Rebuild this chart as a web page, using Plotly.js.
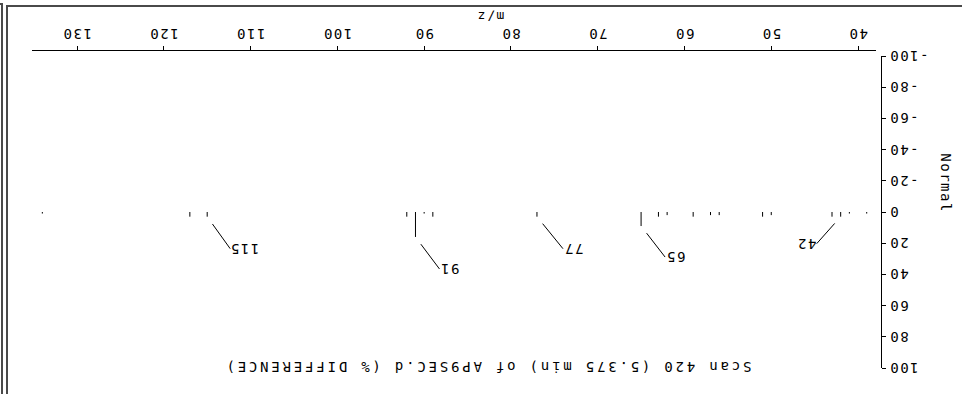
<!DOCTYPE html>
<html>
<head>
<meta charset="utf-8">
<script src="https://cdn.plot.ly/plotly-3.0.1.min.js"></script>
<style>
  html, body { margin: 0; padding: 0; background: #fff; }
  /* the reference picture is the whole printout turned upside down */
  #wrap { position: relative; width: 962px; height: 394px; transform: rotate(180deg); overflow: hidden; background: #fff; }
  #chart { position: absolute; left: 0; top: 0; width: 962px; height: 394px; }
  .frame { position: absolute; background: #4a4a4a; }
  #chart .xtick text, #chart .ytick text, #chart .annotation-text { letter-spacing: 1.5px; }
  #chart .gtitle { letter-spacing: 2.8px; }
</style>
</head>
<body>
<div id="wrap">
  <div id="chart"></div>
  <div class="frame" style="left:954px; top:0; width:2px; height:389px;"></div>
  <div class="frame" style="left:959px; top:0; width:2px; height:391px;"></div>
  <div class="frame" style="left:0; top:387px; width:956px; height:2px;"></div>
  <div class="frame" style="left:959px; top:389px; width:3px; height:2px;"></div>
</div>
<script>
/*globals Plotly*/

// spectrum, m/z and % difference
var peakMz  = [39, 41, 42, 43, 50, 51, 56, 57, 59, 62, 63, 65, 77, 89, 90, 91, 92, 115, 117, 134];
var peakPct = [ 1,  1,  3,  3,  2,  3,  2,  2,  3,  2,  3,  9,  3,  3,  1, 16,  3,   3,   3,   1];

// labelled peaks
var labelMz = [42, 65, 77, 91, 115];

var xTickVals = [40, 50, 60, 70, 80, 90, 100, 110, 120, 130];
var yTickVals = [-100, -80, -60, -40, -20, 0, 20, 40, 60, 80, 100];
var yTickText = ['-100', '-80', '-60', '-40', '-20', '0', '20', '40', '60', '80', '100'];

var titleText = 'Scan 420 (5.375 min) of AP9SEC.d (% DIFFERENCE)';

// where each label sits, relative to its peak (pixels)
var labelOffsets = {
  42:  {ax: 24,  ay: -27, xanchor: 'left'},
  65:  {ax: -24, ay: -31, xanchor: 'right'},
  77:  {ax: -26, ay: -32, xanchor: 'right'},
  91:  {ax: -24, ay: -32, xanchor: 'right'},
  115: {ax: -23, ay: -32, xanchor: 'right'}
};

var mono = 'DejaVu Sans Mono, monospace';

// sticks: one segment per peak
var lx = [], ly = [];
peakMz.forEach(function (m, i) {
  lx.push(m, m, null);
  ly.push(0, peakPct[i], null);
});

var sticks = {
  x: lx,
  y: ly,
  type: 'scatter',
  mode: 'lines',
  line: {color: '#000', width: 1},
  hoverinfo: 'skip',
  showlegend: false
};

var annotations = labelMz.map(function (m) {
  var o = labelOffsets[m];
  return {
    x: m,
    y: peakPct[peakMz.indexOf(m)],
    xref: 'x',
    yref: 'y',
    text: String(m),
    showarrow: true,
    arrowhead: 0,
    arrowwidth: 1,
    arrowcolor: '#000',
    standoff: 9,
    ax: o.ax,
    ay: o.ay,
    xanchor: o.xanchor,
    yanchor: 'middle',
    font: {family: mono, size: 14, color: '#000'}
  };
});

annotations.push({
  text: 'm/z',
  xref: 'paper', yref: 'paper',
  x: 0.46, y: -0.110,
  xanchor: 'center', yanchor: 'middle',
  showarrow: false,
  font: {family: mono, size: 13, color: '#000'}
});

annotations.push({
  text: 'Normal',
  xref: 'paper', yref: 'paper',
  x: -0.076, y: 0.417,
  xanchor: 'center', yanchor: 'middle',
  textangle: -90,
  showarrow: false,
  font: {family: mono, size: 14, color: '#000'}
});

var axisFont = {family: mono, size: 14, color: '#000'};

var layout = {
  width: 962,
  height: 394,
  margin: {l: 80, r: 32, t: 26, b: 51, pad: 0},
  paper_bgcolor: '#fff',
  plot_bgcolor: '#fff',
  showlegend: false,
  hovermode: false,
  title: {
    text: titleText,
    font: {family: mono, size: 14, color: '#000'},
    x: 0.4932,
    y: 0.9315,
    xanchor: 'center',
    yanchor: 'middle'
  },
  xaxis: {
    domain: [6 / 850, 1],
    anchor: 'free',
    position: 0,
    range: [37.93, 135.19],
    tickvals: xTickVals,
    ticks: 'outside',
    ticklen: 4,
    tickwidth: 1,
    tickcolor: '#000',
    showline: true,
    linecolor: '#000',
    linewidth: 1,
    showgrid: false,
    zeroline: false,
    tickfont: axisFont
  },
  yaxis: {
    domain: [5 / 317, 1],
    anchor: 'free',
    position: 0,
    range: [-100, 100],
    tickvals: yTickVals,
    ticktext: yTickText,
    ticks: 'outside',
    ticklen: 4,
    tickwidth: 1,
    tickcolor: '#000',
    showline: true,
    linecolor: '#000',
    linewidth: 1,
    showgrid: false,
    zeroline: false,
    tickfont: axisFont
  },
  annotations: annotations
};

Plotly.newPlot('chart', [sticks], layout, {staticPlot: true, displayModeBar: false});
</script>
</body>
</html>
